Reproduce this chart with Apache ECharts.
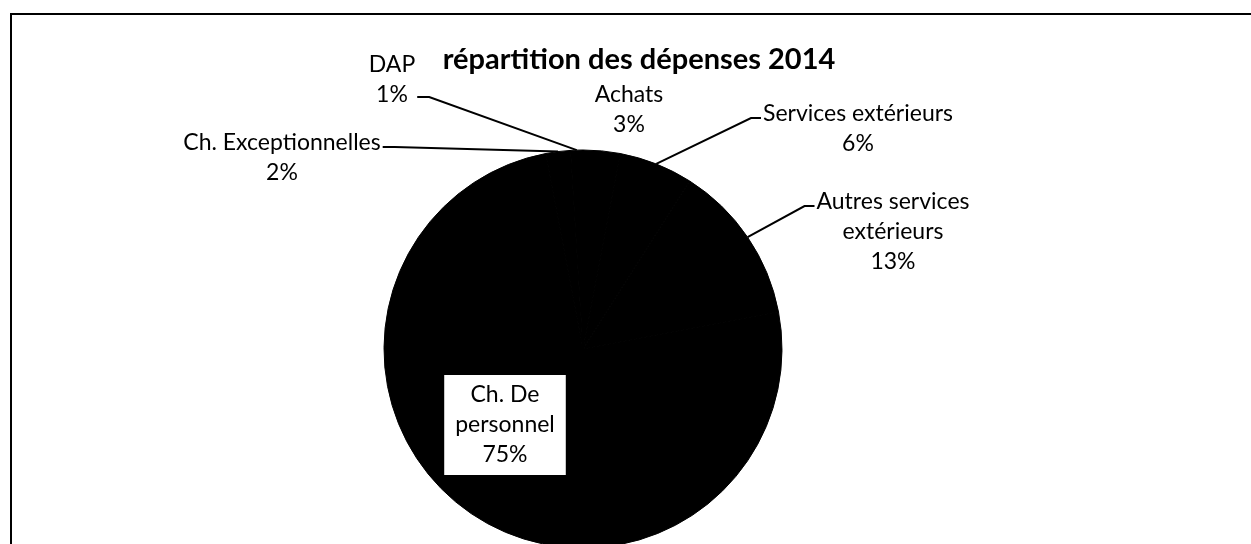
<!DOCTYPE html>
<html>
<head>
<meta charset="utf-8">
<script src="https://cdn.jsdelivr.net/npm/echarts@6/dist/echarts.min.js"></script>
<style>
  html, body { margin: 0; padding: 0; background: #fff; }
  #chart { width: 1251px; height: 544px; }
</style>
</head>
<body>
<div id="chart"></div>
<script>
// depenses 2014, en % (ordre Excel : depuis midi, sens horaire)
var categories = ['Achats', 'Services extérieurs', 'Autres services\nextérieurs', 'Ch. De\npersonnel', 'Ch. Exceptionnelles', 'DAP'];
var values = [3, 6, 13, 75, 2, 1];

// where each label sits (centre of the text block) and which side the leader attaches to
var labelSpots = [
  { x: 629, y: 110, line: null },
  { x: 858, y: 129, line: 'left-first' },
  { x: 893, y: 232, line: 'left-first' },
  { x: 505, y: 425, line: null },
  { x: 282, y: 158, line: 'right-first' },
  { x: 392, y: 80, line: 'right-last' }
];
var lineH = 30;

var chart = echarts.init(document.getElementById('chart'));

var data = categories.map(function (c, i) {
  var d = { name: c, value: values[i] };
  if (i === 3) {
    d.label = {
      backgroundColor: '#fff',
      padding: [5, 11, 5, 11]
    };
  }
  return d;
});

chart.setOption({
  animation: false,
  backgroundColor: '#fff',
  title: {
    text: 'répartition des dépenses 2014',
    left: 634,
    top: 40,
    textAlign: 'center',
    textStyle: { fontFamily: 'Lato', fontWeight: 'bold', fontSize: 29, color: '#000' }
  },
  graphic: [{
    type: 'rect',
    shape: { x: 11, y: 14, width: 1400, height: 700 },
    style: { fill: 'none', stroke: '#000', lineWidth: 2 }
  }],
  series: [{
    type: 'pie',
    center: [583, 349],
    radius: 199,
    startAngle: 90,
    clockwise: true,
    percentPrecision: 0,
    itemStyle: { color: '#000', borderColor: '#000', borderWidth: 1 },
    emphasis: { disabled: true },
    label: {
      show: true,
      position: 'outside',
      formatter: '{b}\n{d}%',
      fontFamily: 'Lato',
      fontSize: 23,
      lineHeight: lineH,
      color: '#000',
      align: 'center'
    },
    labelLine: {
      show: true,
      length: 10,
      length2: 10,
      lineStyle: { color: '#000', width: 2 }
    },
    labelLayout: function (p) {
      var s = labelSpots[p.dataIndex];
      var w = p.labelRect.width, h = p.labelRect.height;
      var out = { x: s.x, y: s.y, align: 'center', verticalAlign: 'middle' };
      var start = p.labelLinePoints ? p.labelLinePoints[0] : null;
      if (s.line && start) {
        var ey, ex, elx;
        if (s.line === 'right-last') {
          ey = s.y + h / 2 - lineH / 2 + 2; ex = s.x + w / 2 + 2; elx = ex + 12;
        } else if (s.line === 'right-first') {
          ey = s.y - h / 2 + lineH / 2 + 4; ex = s.x + w / 2 + 2; elx = ex + 12;
        } else {
          ey = s.y - h / 2 + lineH / 2 + 4; ex = s.x - w / 2 - 2; elx = ex - 10;
        }
        out.labelLinePoints = [start, [elx, ey], [ex, ey]];
      } else {
        out.labelLinePoints = [[0, 0], [0, 0], [0, 0]];
      }
      return out;
    },
    data: data
  }]
});
</script>
</body>
</html>
